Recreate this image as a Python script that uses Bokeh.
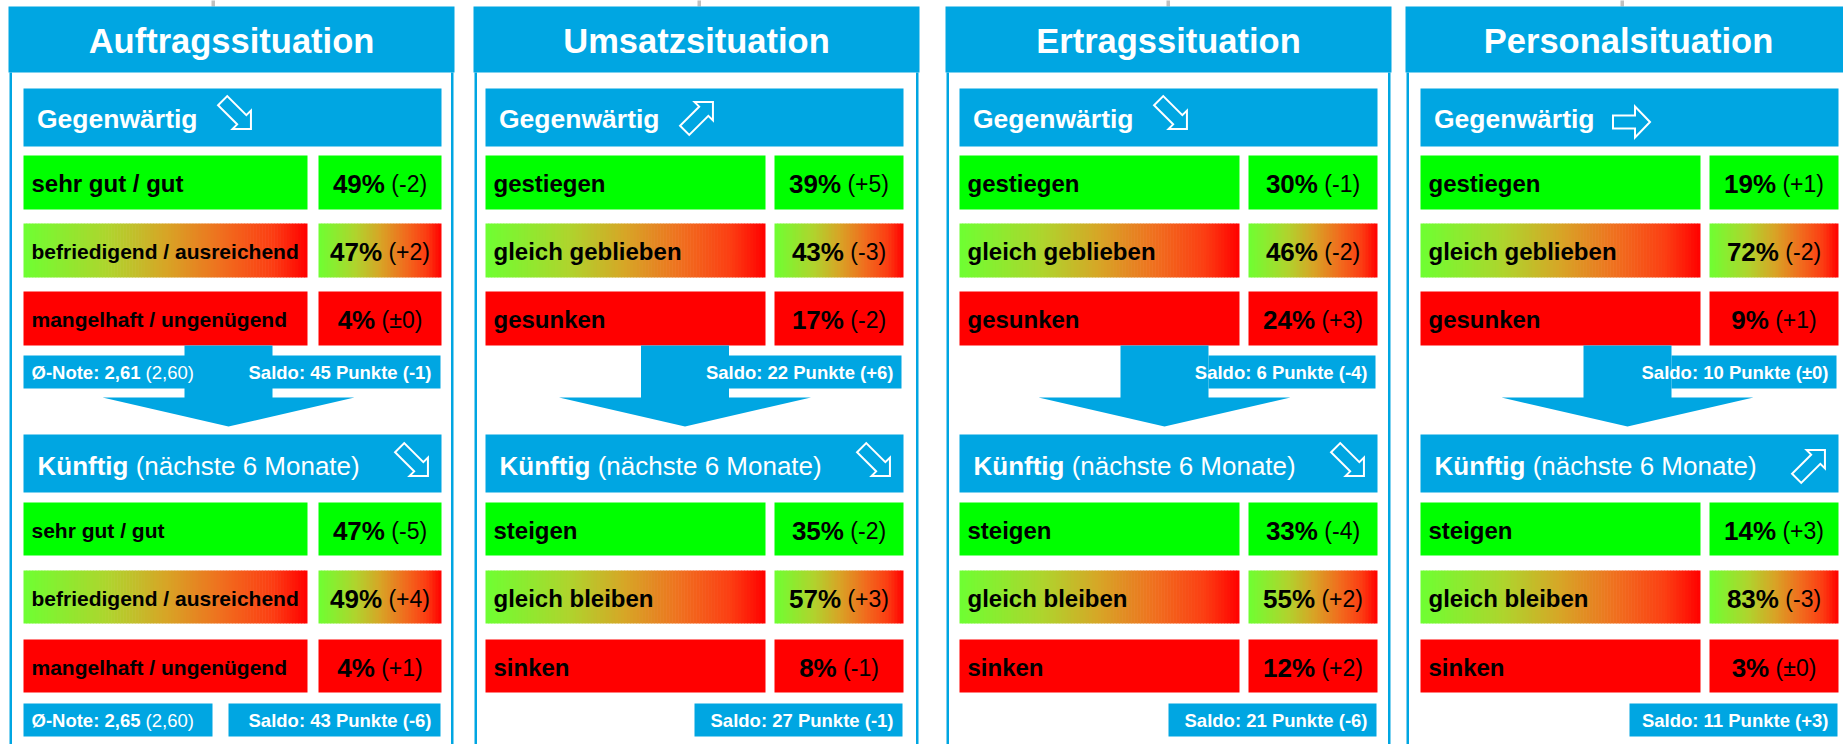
import math
from bokeh.plotting import figure
from bokeh.models import ColumnDataSource, Range1d
from bokeh.embed import file_html
from bokeh.resources import INLINE
from bokeh.core.properties import value

# ---------------- data ----------------
titles = ["Auftragssituation", "Umsatzsituation", "Ertragssituation", "Personalsituation"]
cur_labels = [
    ["sehr gut / gut", "befriedigend / ausreichend", "mangelhaft / ungenügend"],
    ["gestiegen", "gleich geblieben", "gesunken"],
    ["gestiegen", "gleich geblieben", "gesunken"],
    ["gestiegen", "gleich geblieben", "gesunken"],
]
fut_labels = [
    ["sehr gut / gut", "befriedigend / ausreichend", "mangelhaft / ungenügend"],
    ["steigen", "gleich bleiben", "sinken"],
    ["steigen", "gleich bleiben", "sinken"],
    ["steigen", "gleich bleiben", "sinken"],
]
cur_pct = [[49, 47, 4], [39, 43, 17], [30, 46, 24], [19, 72, 9]]
cur_chg = [[-2, 2, 0], [5, -3, -2], [-1, -2, 3], [1, -2, 1]]
fut_pct = [[47, 49, 4], [35, 57, 8], [33, 55, 12], [14, 83, 3]]
fut_chg = [[-5, 4, 1], [-2, 3, -1], [-4, 2, 2], [3, -3, 0]]
cur_saldo = [45, 22, 6, 10]
cur_saldo_chg = [-1, 6, -4, 0]
fut_saldo = [43, 27, 21, 11]
fut_saldo_chg = [-6, -1, -6, 3]
note_cur = [2.61, 2.60]   # Ø-Note gegenwärtig (Vorperiode)
note_fut = [2.65, 2.60]   # Ø-Note künftig (Vorperiode)
cur_trend = ["down", "up", "down", "flat"]
fut_trend = ["down", "down", "down", "up"]

# ---------------- styles / layout ----------------
BLUE = "#00A6E2"
GREEN = "#00FF00"
RED = "#FF0000"
FONT = value("Liberation Sans")
panel_x = [8, 473, 945, 1405]
panel_w = 446
bar_left = [23, 485, 959, 1420]
bar_right = [441, 903, 1377, 1838]
label_w = [284, 280, 280, 280]
gap_w = [11, 9, 9, 9]
arrow_off = [205, 199.5, 205, 207]
cur_sizes = [[24, 21, 21], [24, 24, 24], [24, 24, 24], [24, 24, 24]]
fut_sizes = [[21, 21, 21], [24, 24, 24], [24, 24, 24], [24, 24, 24]]
cur_tops = [155, 223, 291]
fut_tops = [502, 570, 639]
top_marks = [211, 697, 1166, 1620]
BASE_FIX = 0.3   # renderer places the alphabetic baseline this many ems lower
grad_stops = [(0.0, (110, 255, 50)), (0.3, (175, 212, 45)), (0.5, (215, 165, 38)),
              (0.7, (240, 110, 30)), (0.88, (252, 60, 18)), (1.0, (255, 0, 0))]

REG = {' ': 278, '(': 333, ')': 333, '-': 333, '+': 584, '±': 549, '%': 889, ',': 278,
       'n': 556, 'ä': 556, 'c': 500, 'h': 556, 's': 500, 't': 278, 'e': 556, 'M': 833,
       'o': 556, 'a': 556}
BOLD = {' ': 278, '%': 889, 'K': 722, 'ü': 611, 'n': 611, 'f': 333, 't': 333, 'i': 278,
        'g': 611, 'Ø': 778, '-': 333, 'N': 722, 'o': 611, 'e': 556, ':': 333, ',': 278}


def tw(s, size, bold):
    tab = BOLD if bold else REG
    return sum(tab.get(ch, 556) for ch in s) * size / 1000.0


def fmt(v):
    if v == 0:
        return "±0"
    return f"+{v}" if v > 0 else f"-{abs(v)}"


def fnote(v):
    return f"{v:.2f}".replace(".", ",")


def grad_color(t):
    for (t0, c0), (t1, c1) in zip(grad_stops[:-1], grad_stops[1:]):
        if t <= t1:
            f = (t - t0) / (t1 - t0)
            c = [int(round(a + (b - a) * f)) for a, b in zip(c0, c1)]
            return "#%02x%02x%02x" % tuple(c)
    return "#ff0000"


W, H = 1843, 744
p = figure(width=W, height=H, x_range=Range1d(0, W), y_range=Range1d(H, 0),
           output_backend="svg", toolbar_location=None, min_border=0,
           x_axis_location=None, y_axis_location=None)
p.grid.visible = False
p.outline_line_color = None
p.background_fill_color = "white"
p.border_fill_color = "white"

quads = dict(left=[], right=[], top=[], bottom=[], color=[])
grads = dict(left=[], right=[], top=[], bottom=[], color=[])
heads = dict(xs=[], ys=[])
icons = dict(xs=[], ys=[])
texts = {}


def rect(l, r, t, b, c):
    quads["left"].append(l); quads["right"].append(r)
    quads["top"].append(t); quads["bottom"].append(b); quads["color"].append(c)


def grect(l, r, t, b):
    n = max(40, int((r - l) / 3))
    w = (r - l) / n
    for k in range(n):
        grads["left"].append(l + k * w)
        grads["right"].append(min(r, l + (k + 1) * w + 0.6))
        grads["top"].append(t); grads["bottom"].append(b)
        grads["color"].append(grad_color((k + 0.5) / n))


def txt(x, y, s, size, bold, color="black", align="left"):
    key = (bold, align)
    d = texts.setdefault(key, dict(x=[], y=[], text=[], size=[], color=[]))
    d["x"].append(x); d["y"].append(y - BASE_FIX * size); d["text"].append(s)
    d["size"].append(f"{size}px"); d["color"].append(color)


def icon(cx, cy, trend):
    if trend == "flat":
        L, HL, HH, SH, ang = 37, 15, 15.5, 6.5, 0
    else:
        L, HL, HH, SH = 40, 13, 13, 6.5
        ang = 45 if trend == "up" else -45
    pts = [(L / 2, 0), (L / 2 - HL, HH), (L / 2 - HL, SH), (-L / 2, SH), (-L / 2, -SH),
           (L / 2 - HL, -SH), (L / 2 - HL, -HH)]
    a = math.radians(ang)
    sx = [x * math.cos(a) - y * math.sin(a) for x, y in pts]
    sy = [-(x * math.sin(a) + y * math.cos(a)) for x, y in pts]
    mx = (max(sx) + min(sx)) / 2
    my = (max(sy) + min(sy)) / 2
    icons["xs"].append([cx + x - mx for x in sx])
    icons["ys"].append([cy + y - my for y in sy])


def row(i, top, h, label, pct, chg, lsize, kind):
    bl, br = bar_left[i], bar_right[i]
    lr = bl + label_w[i]
    vl = lr + gap_w[i]
    if kind == 1:
        grect(bl, lr, top, top + h)
        grect(vl, br, top, top + h)
    else:
        c = GREEN if kind == 0 else RED
        rect(bl, lr, top, top + h, c)
        rect(vl, br, top, top + h, c)
    cy = top + h / 2
    txt(bl + 8, cy + 0.358 * lsize, label, lsize, True)
    s1 = f"{pct}%"
    s2 = f"({fmt(chg)})"
    w1 = tw(s1, 26, True)
    w2 = tw(" ", 23, False)
    w3 = tw(s2, 23, False)
    x0 = (vl + br) / 2 - (w1 + w2 + w3) / 2
    txt(x0, cy + 0.358 * 26, s1, 26, True)
    txt(x0 + w1 + w2, cy + 0.358 * 26 + 0.3 * (23 - 26), s2, 23, False)


for xm in top_marks:
    rect(xm, xm + 3.5, -2, 6, "#C0C0C0")

for i in range(4):
    px = panel_x[i]
    bl, br = bar_left[i], bar_right[i]
    # header and frame
    rect(px, px + panel_w, 6, 72, BLUE)
    rect(px + 1, px + 3.5, 72, 760, BLUE)
    rect(px + panel_w - 3.5, px + panel_w - 1, 72, 760, BLUE)
    txt(px + panel_w / 2, 50.5, titles[i], 34.5, True, "white", "center")
    # Gegenwärtig bar
    rect(bl, br, 88, 146, BLUE)
    txt(bl + 13.5, 126.5, "Gegenwärtig", 26.5, True, "white")
    dy = {"down": -5, "up": 1, "flat": 4.5}[cur_trend[i]]
    icon(bl + 211, 117 + dy, cur_trend[i])
    for k in range(3):
        row(i, cur_tops[k], 54, cur_labels[i][k], cur_pct[i][k], cur_chg[i][k], cur_sizes[i][k], k)
    # big down arrow
    cx = bl + arrow_off[i]
    rect(cx - 44, cx + 44, 345, 398, BLUE)
    heads["xs"].append([cx - 126, cx + 126, cx])
    heads["ys"].append([397, 397, 426])
    saldo1 = f"Saldo: {cur_saldo[i]} Punkte ({fmt(cur_saldo_chg[i])})"
    if i == 0:
        rect(bl, br - 1, 355, 388, BLUE)
        s = f"Ø-Note: {fnote(note_cur[0])}"
        txt(bl + 8, 378, s, 18.5, True, "white")
        txt(bl + 8 + tw(s + " ", 18.5, True), 378, f"({fnote(note_cur[1])})", 18.5, False, "white")
    else:
        rect(cx + 44, br - 2, 355, 388, BLUE)
    txt(br - 10, 378, saldo1, 18.5, True, "white", "right")
    # Künftig bar
    rect(bl, br, 434, 492, BLUE)
    x0 = bl + 14
    txt(x0, 473.5, "Künftig", 26, True, "white")
    txt(x0 + tw("Künftig ", 26, True), 473.5, "(nächste 6 Monate)", 26, False, "white")
    dy = {"down": -4, "up": 3, "flat": 4}[fut_trend[i]]
    icon(br - 30, 463 + dy, fut_trend[i])
    for k in range(3):
        row(i, fut_tops[k], 53, fut_labels[i][k], fut_pct[i][k], fut_chg[i][k], fut_sizes[i][k], k)
    saldo2 = f"Saldo: {fut_saldo[i]} Punkte ({fmt(fut_saldo_chg[i])})"
    if i == 0:
        rect(bl, bl + 189, 703, 736, BLUE)
        s = f"Ø-Note: {fnote(note_fut[0])}"
        txt(bl + 8, 726, s, 18.5, True, "white")
        txt(bl + 8 + tw(s + " ", 18.5, True), 726, f"({fnote(note_fut[1])})", 18.5, False, "white")
        rect(bl + 205, br - 1, 703, 736, BLUE)
    else:
        rect(br - 209, br - 1, 703, 736, BLUE)
    txt(br - 10, 726, saldo2, 18.5, True, "white", "right")

p.quad(left="left", right="right", top="top", bottom="bottom", fill_color="color",
       line_color=None, source=ColumnDataSource(quads))
p.patches(xs="xs", ys="ys", fill_color=BLUE, line_color=None, source=ColumnDataSource(heads))
p.quad(left="left", right="right", top="top", bottom="bottom", fill_color="color",
       line_color=None, source=ColumnDataSource(grads))
for (bold, align), d in texts.items():
    p.text(x="x", y="y", text="text", source=ColumnDataSource(d), text_font=FONT,
           text_font_size="size", text_font_style="bold" if bold else "normal",
           text_color="color", text_align=align, text_baseline="alphabetic")
p.patches(xs="xs", ys="ys", fill_color=None, line_color="white", line_width=2,
          line_join="miter", source=ColumnDataSource(icons))

open("out.html", "w").write(file_html(p, INLINE))
